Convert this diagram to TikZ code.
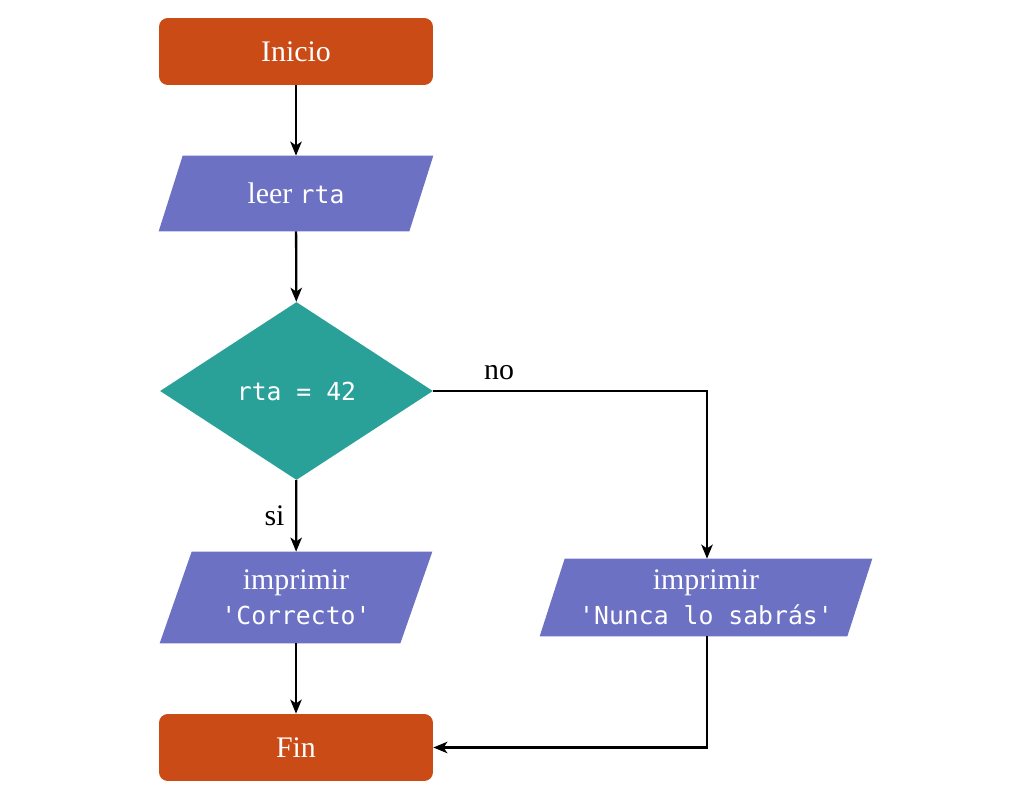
\documentclass[tikz,border=0pt]{standalone}
\usepackage{fontspec}
\setmainfont{Liberation Serif}
\setmonofont{DejaVu Sans Mono}
\usetikzlibrary{shapes.geometric,arrows.meta,calc}
\pgfdeclarelayer{background}
\pgfsetlayers{background,main}
\definecolor{sorange}{HTML}{CB4B16}
\definecolor{sviolet}{HTML}{6C71C4}
\definecolor{scyan}{HTML}{2AA198}
\newcommand{\mono}[1]{{\fontsize{14.1}{20}\selectfont\ttfamily #1}}
\tikzset{
  base/.style={text=white, font=\fontsize{17}{20}\selectfont, inner sep=0pt, align=center},
  term/.style={base, rectangle, rounded corners=5pt, fill=sorange, minimum width=5.48cm, minimum height=1.34cm},
  iobox/.style={base, rectangle},
  decis/.style={base, diamond, fill=scyan, minimum width=5.46cm, minimum height=3.56cm},
  conn/.style={line width=1.3pt, -{Stealth[length=8pt,width=6.5pt,inset=2.2pt]}},
  lbl/.style={font=\fontsize{17}{20}\selectfont, inner sep=0pt}
}
\begin{document}
\begin{tikzpicture}[x=0.02cm,y=-0.02cm]
\useasboundingbox (0,0) rectangle (1024,800);
\node[term] (inicio) at (296,51.5) {Inicio};
\node[iobox, minimum width=5.48cm, minimum height=1.5cm] (leer) at (296,193.5) {leer \mono{rta}};
\node[decis] (cond) at (296.5,391) {\mono{rta = 42}};
\node[iobox, minimum width=5.44cm, minimum height=1.82cm] (corr) at (296,597.5) {imprimir\\\mono{'Correcto'}};
\node[iobox, minimum width=6.64cm, minimum height=1.54cm] (nunca) at (706,597.5) {imprimir\\\mono{'Nunca lo sabrás'}};
\node[term] (fin) at (296,747.5) {Fin};
\begin{pgfonlayer}{background}
\fill[sviolet] (leer.south west) -- ([xshift=-0.48cm]leer.south east) -- (leer.north east) -- ([xshift=0.48cm]leer.north west) -- cycle;
\fill[sviolet] (corr.south west) -- ([xshift=-0.64cm]corr.south east) -- (corr.north east) -- ([xshift=0.64cm]corr.north west) -- cycle;
\fill[sviolet] (nunca.south west) -- ([xshift=-0.5cm]nunca.south east) -- (nunca.north east) -- ([xshift=0.5cm]nunca.north west) -- cycle;
\end{pgfonlayer}
\coordinate (c1) at (707,391);
\coordinate (c2) at (707,747.5);
\draw[conn] (inicio) -- (leer);
\draw[conn] (leer) -- (cond);
\draw[conn] (cond) -- node[lbl, pos=0.5, left=6pt] (si) {si} (corr);
\draw[conn] (cond.east) -- node[lbl, pos=0.24, above=6pt] (no) {no} (c1) -- (nunca.north -| c1);
\draw[conn] (nunca.south -| c2) -- (c2) -- (fin.east);
\draw[conn] (corr) -- (fin);
\end{tikzpicture}
\end{document}
